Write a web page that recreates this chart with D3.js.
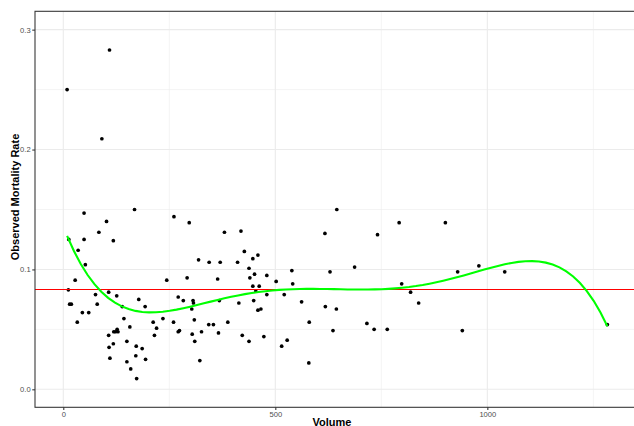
<!DOCTYPE html>
<html>
<head>
<meta charset="utf-8">
<script src="https://cdn.jsdelivr.net/npm/d3@7/dist/d3.min.js"></script>
<style>
  html, body { margin: 0; padding: 0; background: #fff; }
  svg { display: block; }
</style>
</head>
<body>
<svg id="chart" width="634" height="426"></svg>
<script>
// ---- Data ----
const volume = [109, 9, 91, 49, 168, 102, 261, 297, 84, 13,
  49, 118, 35, 52, 319, 344, 370, 28, 12, 15,
  19, 45, 60, 33, 76, 80, 107, 126, 139, 143,
  157, 178, 193, 212, 220, 215, 235, 244, 292, 271,
  283, 306, 307, 303, 309, 260, 271, 274, 304, 326,
  310, 322, 343, 354, 366, 364, 368, 107, 119, 123,
  127, 129, 118, 108, 110, 150, 172, 186, 171, 194,
  150, 159, 173, 380, 419, 427, 447, 459, 411, 438,
  451, 440, 480, 502, 539, 541, 447, 462, 617, 645,
  629, 687, 741, 454, 388, 414, 449, 480, 521, 459,
  466, 422, 438, 473, 515, 528, 562, 580, 579, 618,
  644, 636, 716, 733, 764, 792, 901, 930, 980, 1041,
  798, 819, 838, 941, 1283];
const rate = [0.283, 0.250, 0.209, 0.147, 0.150, 0.140, 0.144, 0.139, 0.131, 0.125,
  0.125, 0.124, 0.116, 0.104, 0.108, 0.106, 0.106, 0.091, 0.083, 0.071,
  0.071, 0.064, 0.064, 0.056, 0.079, 0.071, 0.081, 0.078, 0.069, 0.059,
  0.052, 0.075, 0.069, 0.056, 0.051, 0.045, 0.059, 0.091, 0.093, 0.077,
  0.074, 0.074, 0.072, 0.067, 0.058, 0.056, 0.048, 0.049, 0.046, 0.048,
  0.040, 0.024, 0.054, 0.054, 0.047, 0.092, 0.074, 0.045, 0.048, 0.048,
  0.050, 0.048, 0.038, 0.035, 0.026, 0.040, 0.036, 0.034, 0.028, 0.025,
  0.023, 0.017, 0.009, 0.131, 0.132, 0.115, 0.109, 0.112, 0.106, 0.101,
  0.096, 0.093, 0.095, 0.090, 0.099, 0.088, 0.086, 0.086, 0.130, 0.150,
  0.098, 0.102, 0.129, 0.082, 0.056, 0.072, 0.074, 0.079, 0.079, 0.066,
  0.067, 0.045, 0.040, 0.044, 0.036, 0.041, 0.073, 0.056, 0.022, 0.069,
  0.067, 0.049, 0.055, 0.050, 0.050, 0.139, 0.139, 0.098, 0.103, 0.098,
  0.088, 0.081, 0.072, 0.049, 0.054];
const overallRate = 0.0833;
const xTicks = [0, 500, 1000];
const xMinor = [250, 750, 1250];
const yTicks = [0, 0.1, 0.2, 0.3];
const yMinor = [0.05, 0.15, 0.25];
const xTitle = "Volume";
const yTitle = "Observed Mortality Rate";
const fitDegree = 5;

// ---- Layout ----
const svg = d3.select("#chart");
const P = { left: 35, right: 640, top: 11.3, bottom: 407.3 };
const x = d3.scaleLinear().domain([-66.7, 1360]).range([P.left, P.right]);
const y = d3.scaleLinear().domain([-0.0150, 0.3153]).range([P.bottom, P.top]);
const FONT = "'Liberation Sans', Arial, sans-serif";

svg.append("defs").append("clipPath").attr("id", "clip")
  .append("rect").attr("x", P.left).attr("y", P.top)
  .attr("width", P.right - P.left).attr("height", P.bottom - P.top);
const panel = svg.append("g").attr("clip-path", "url(#clip)");
panel.append("rect").attr("x", P.left).attr("y", P.top)
  .attr("width", P.right - P.left).attr("height", P.bottom - P.top).attr("fill", "#fff");

// grid
panel.selectAll(".xmin").data(xMinor).enter().append("line")
  .attr("x1", d => x(d)).attr("x2", d => x(d)).attr("y1", P.top).attr("y2", P.bottom)
  .attr("stroke", "#EBEBEB").attr("stroke-width", 0.55);
panel.selectAll(".ymin").data(yMinor).enter().append("line")
  .attr("y1", d => y(d)).attr("y2", d => y(d)).attr("x1", P.left).attr("x2", P.right)
  .attr("stroke", "#EBEBEB").attr("stroke-width", 0.55);
panel.selectAll(".xmaj").data(xTicks).enter().append("line")
  .attr("x1", d => x(d)).attr("x2", d => x(d)).attr("y1", P.top).attr("y2", P.bottom)
  .attr("stroke", "#EBEBEB").attr("stroke-width", 1.1);
panel.selectAll(".ymaj").data(yTicks).enter().append("line")
  .attr("y1", d => y(d)).attr("y2", d => y(d)).attr("x1", P.left).attr("x2", P.right)
  .attr("stroke", "#EBEBEB").attr("stroke-width", 1.1);

// points
const pts = volume.map((v, i) => ({ v, r: rate[i] }));
panel.selectAll("circle").data(pts).enter().append("circle")
  .attr("cx", d => x(d.v)).attr("cy", d => y(d.r)).attr("r", 1.85).attr("fill", "#000");

// horizontal reference line
panel.append("line").attr("x1", P.left).attr("x2", P.right)
  .attr("y1", y(overallRate)).attr("y2", y(overallRate))
  .attr("stroke", "#FF0000").attr("stroke-width", 1.07);

// ---- polynomial least-squares smooth computed from the data ----
function solveLS(rows, ys) {
  const m = rows[0].length;
  const A = Array.from({ length: m }, () => Array(m + 1).fill(0));
  rows.forEach((r, i) => {
    for (let a = 0; a < m; a++) {
      for (let b = 0; b < m; b++) A[a][b] += r[a] * r[b];
      A[a][m] += r[a] * ys[i];
    }
  });
  for (let c = 0; c < m; c++) {
    let p = c;
    for (let r = c + 1; r < m; r++) if (Math.abs(A[r][c]) > Math.abs(A[p][c])) p = r;
    [A[c], A[p]] = [A[p], A[c]];
    for (let r = 0; r < m; r++) {
      if (r === c) continue;
      const f = A[r][c] / A[c][c];
      for (let k = c; k <= m; k++) A[r][k] -= f * A[c][k];
    }
  }
  return A.map((row, i) => row[m] / row[i]);
}
function polyFit(xs, ys, deg) {
  const basis = xv => d3.range(deg + 1).map(k => Math.pow(xv / 1000, k));
  const coef = solveLS(xs.map(basis), ys);
  return xv => basis(xv).reduce((a, b, i) => a + b * coef[i], 0);
}
const smoothF = polyFit(volume, rate, fitDegree);
const xMin = d3.min(volume), xMax = d3.max(volume);
const fit = d3.range(80).map(i => {
  const v = xMin + (xMax - xMin) * i / 79;
  return { v, r: smoothF(v) };
});
panel.append("path").datum(fit)
  .attr("d", d3.line().x(d => x(d.v)).y(d => y(d.r)))
  .attr("fill", "none").attr("stroke", "#00FF00").attr("stroke-width", 2.1);

// panel border
svg.append("rect").attr("x", P.left).attr("y", P.top)
  .attr("width", P.right - P.left).attr("height", P.bottom - P.top)
  .attr("fill", "none").attr("stroke", "#333333").attr("stroke-width", 1.07);

// axes
const xAxis = d3.axisBottom(x).tickValues(xTicks).tickFormat(d3.format("d")).tickSize(2.75).tickPadding(1.2);
const gx = svg.append("g").attr("transform", `translate(0,${P.bottom})`).call(xAxis);
const yAxis = d3.axisLeft(y).tickValues(yTicks).tickFormat(d3.format(".1f")).tickSize(2.75).tickPadding(1.6);
const gy = svg.append("g").attr("transform", `translate(${P.left},0)`).call(yAxis);
[gx, gy].forEach(g => {
  g.select(".domain").remove();
  g.selectAll(".tick line").attr("stroke", "#333333").attr("stroke-width", 1.07);
  g.selectAll(".tick text").attr("fill", "#4D4D4D")
    .style("font-family", FONT).style("font-size", "7.6px");
});

svg.append("text").attr("x", 332).attr("y", 425.5).attr("text-anchor", "middle")
  .style("font-family", FONT).style("font-size", "11px")
  .style("font-weight", "bold").attr("fill", "#000").text(xTitle);
svg.append("text").attr("transform", `translate(19,197) rotate(-90)`)
  .attr("text-anchor", "middle")
  .style("font-family", FONT).style("font-size", "11px")
  .style("font-weight", "bold").attr("fill", "#000").text(yTitle);
</script>
</body>
</html>
